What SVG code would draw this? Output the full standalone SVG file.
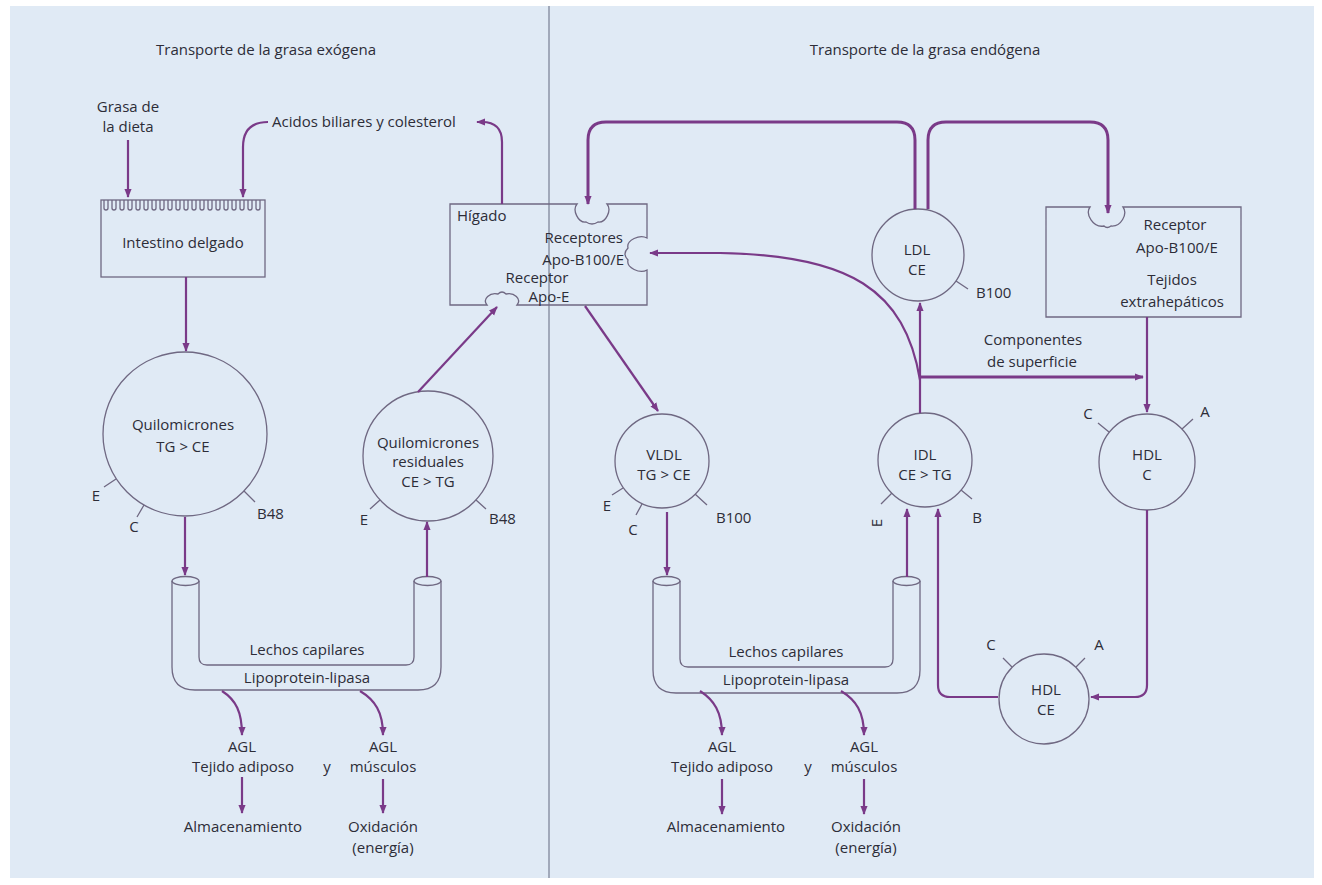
<svg xmlns="http://www.w3.org/2000/svg" width="1322" height="885" viewBox="0 0 1322 885">
<defs>
<style>
.t{font-family:"Open Sans","Liberation Sans",sans-serif;font-size:15px;fill:#2d2d38;text-anchor:middle}
.s{text-anchor:start}
.e{text-anchor:end}
.ti{font-size:15px}
.o{fill:none;stroke:#6f6882;stroke-width:1.3}
.a{fill:none;stroke:#7a3a88;stroke-width:2.2;marker-end:url(#ah)}
.k{stroke-width:3}
.st{fill:none;stroke:#6f6882;stroke-width:1.3}
</style>
<marker id="ah" viewBox="0 0 10 10" refX="9" refY="5" markerWidth="9" markerHeight="9" markerUnits="userSpaceOnUse" orient="auto"><path d="M0,1 L10,5 L0,9 z" fill="#7a3a88"/></marker>
</defs>
<rect x="0" y="0" width="1322" height="885" fill="#ffffff"/>
<rect x="10" y="6" width="1304" height="872" fill="#e0eaf5"/>
<line x1="549" y1="6" x2="549" y2="878" stroke="#8d93a6" stroke-width="1.5"/>

<g id="titles">
<text class="t ti" x="266" y="55">Transporte de la grasa exógena</text>
<text class="t ti" x="925" y="55">Transporte de la grasa endógena</text>
</g>

<g id="grasa">
<text class="t" x="128" y="112">Grasa de</text>
<text class="t" x="128" y="132">la dieta</text>
</g>

<g id="acidos">
<text class="t s" x="272" y="127">Acidos biliares y colesterol</text>
</g>

<g id="intestino">
<rect class="o" x="101" y="200" width="164" height="77"/>
<path class="o" d="M104 200V208q0 2 2 2q2 0 2-2V200 M112 200V208q0 2 2 2q2 0 2-2V200 M120 200V208q0 2 2 2q2 0 2-2V200 M128 200V208q0 2 2 2q2 0 2-2V200 M136 200V208q0 2 2 2q2 0 2-2V200 M144 200V208q0 2 2 2q2 0 2-2V200 M152 200V208q0 2 2 2q2 0 2-2V200 M160 200V208q0 2 2 2q2 0 2-2V200 M168 200V208q0 2 2 2q2 0 2-2V200 M176 200V208q0 2 2 2q2 0 2-2V200 M184 200V208q0 2 2 2q2 0 2-2V200 M192 200V208q0 2 2 2q2 0 2-2V200 M200 200V208q0 2 2 2q2 0 2-2V200 M208 200V208q0 2 2 2q2 0 2-2V200 M216 200V208q0 2 2 2q2 0 2-2V200 M224 200V208q0 2 2 2q2 0 2-2V200 M232 200V208q0 2 2 2q2 0 2-2V200 M240 200V208q0 2 2 2q2 0 2-2V200 M248 200V208q0 2 2 2q2 0 2-2V200 M256 200V208q0 2 2 2q2 0 2-2V200"/>
<text class="t" x="183" y="248">Intestino delgado</text>
</g>

<g id="higado">
<path class="o" d="M450 204H577C572 210 578 223 586 222Q592 226 598 222C606 223 612 210 607 204H647V238C640 234 626 240 628 248Q622 254 628 260C626 268 640 274 647 270V305H517C522 299 514 292 506 294Q502 290 498 294C490 292 482 299 487 305H450Z"/>
<text class="t s" x="457" y="221">Hígado</text>
<text class="t e" x="623" y="243">Receptores</text>
<text class="t e" x="624" y="265">Apo-B100/E</text>
<text class="t" x="537" y="283">Receptor</text>
<text class="t" x="549" y="302">Apo-E</text>
</g>

<g id="tejidos">
<path class="o" d="M1046 207H1090C1085 214 1093 228 1104 226Q1107 229 1111 226C1121 227 1128 214 1123 207H1241V317H1046Z"/>
<text class="t" x="1175" y="230">Receptor</text>
<text class="t" x="1177" y="253">Apo-B100/E</text>
<text class="t" x="1172" y="285">Tejidos</text>
<text class="t" x="1172" y="307">extrahepáticos</text>
</g>

<g id="quilomicrones">
<circle class="o" cx="185" cy="434" r="82"/>
<text class="t" x="183" y="430">Quilomicrones</text>
<text class="t" x="183" y="452">TG &gt; CE</text>
<path class="st" d="M116 479L104 487 M144 505L137 517 M244 491L255 502"/>
<text class="t" x="96" y="501">E</text>
<text class="t" x="134" y="532">C</text>
<text class="t s" x="257" y="519">B48</text>
</g>

<g id="residuales">
<circle class="o" cx="428" cy="456" r="65"/>
<text class="t" x="428" y="448">Quilomicrones</text>
<text class="t" x="428" y="467">residuales</text>
<text class="t" x="428" y="487">CE &gt; TG</text>
<path class="st" d="M380 500L370 509 M476 500L486 509"/>
<text class="t" x="364" y="525">E</text>
<text class="t s" x="489" y="524">B48</text>
</g>

<g id="vldl">
<circle class="o" cx="662" cy="461" r="47"/>
<text class="t" x="664" y="460">VLDL</text>
<text class="t" x="664" y="480">TG &gt; CE</text>
<path class="st" d="M623 488L612 495 M642 504L636 515 M695 494L707 505"/>
<text class="t" x="607" y="511">E</text>
<text class="t" x="633" y="535">C</text>
<text class="t s" x="716" y="523">B100</text>
</g>

<g id="idl">
<circle class="o" cx="925" cy="460" r="47"/>
<text class="t" x="925" y="460">IDL</text>
<text class="t" x="925" y="480">CE &gt; TG</text>
<path class="st" d="M892 493L881 504 M961 490L972 499"/>
<text class="t" x="0" y="0" transform="translate(882 523) rotate(-90)">E</text>
<text class="t" x="977" y="523">B</text>
</g>

<g id="ldl">
<circle class="o" cx="918" cy="255" r="46"/>
<text class="t" x="917" y="255">LDL</text>
<text class="t" x="917" y="275">CE</text>
<path class="st" d="M956 281L968 289"/>
<text class="t s" x="976" y="298">B100</text>
</g>

<g id="hdl-c">
<circle class="o" cx="1147" cy="462" r="48"/>
<text class="t" x="1147" y="460">HDL</text>
<text class="t" x="1147" y="480">C</text>
<path class="st" d="M1109 432L1098 423 M1182 429L1193 419"/>
<text class="t" x="1088" y="419">C</text>
<text class="t" x="1205" y="417">A</text>
</g>

<g id="hdl-ce">
<circle class="o" cx="1044" cy="699" r="45"/>
<text class="t" x="1046" y="695">HDL</text>
<text class="t" x="1046" y="715">CE</text>
<path class="st" d="M1012 667L1003 658 M1076 667L1085 658"/>
<text class="t" x="991" y="650">C</text>
<text class="t" x="1099" y="650">A</text>
</g>

<g id="capilares-exogena">
<path class="o" d="M172 581V667Q172 690 195 690H418Q441 690 441 667V581"/>
<path class="o" d="M199 581V657Q199 665 207 665H406Q414 665 414 657V581"/>
<ellipse class="o" cx="185.5" cy="581" rx="13.5" ry="4.5"/>
<ellipse class="o" cx="427.5" cy="581" rx="13.5" ry="4.5"/>
<text class="t" x="307" y="655">Lechos capilares</text>
<text class="t" x="307" y="683">Lipoprotein-lipasa</text>
</g>

<g id="capilares-endogena">
<path class="o" d="M653 581V670Q653 693 676 693H897Q920 693 920 670V581"/>
<path class="o" d="M680 581V659Q680 667 688 667H885Q893 667 893 659V581"/>
<ellipse class="o" cx="666.5" cy="581" rx="13.5" ry="4.5"/>
<ellipse class="o" cx="906.5" cy="581" rx="13.5" ry="4.5"/>
<text class="t" x="786" y="657">Lechos capilares</text>
<text class="t" x="786" y="685">Lipoprotein-lipasa</text>
</g>

<g id="productos-exogena">
<text class="t" x="242" y="752">AGL</text>
<text class="t" x="243" y="772">Tejido adiposo</text>
<text class="t" x="327" y="772">y</text>
<text class="t" x="383" y="752">AGL</text>
<text class="t" x="383" y="772">músculos</text>
<text class="t" x="243" y="832">Almacenamiento</text>
<text class="t" x="383" y="832">Oxidación</text>
<text class="t" x="383" y="853">(energía)</text>
</g>

<g id="productos-endogena">
<text class="t" x="722" y="752">AGL</text>
<text class="t" x="722" y="772">Tejido adiposo</text>
<text class="t" x="808" y="772">y</text>
<text class="t" x="864" y="752">AGL</text>
<text class="t" x="864" y="772">músculos</text>
<text class="t" x="726" y="832">Almacenamiento</text>
<text class="t" x="866" y="832">Oxidación</text>
<text class="t" x="866" y="853">(energía)</text>
</g>

<g id="componentes">
<text class="t" x="1033" y="345">Componentes</text>
<text class="t" x="1032" y="367">de superficie</text>
</g>

<g id="connectors">
<path class="a" d="M128 140V197"/>
<path class="a" d="M268 122Q243 122 243 147V197"/>
<path class="a" d="M502 204V142Q502 122 482 122H477"/>
<path class="a" d="M186 277V351"/>
<path class="a" d="M185 517V575"/>
<path class="a" d="M427 577V522"/>
<path class="a" d="M418 392L497 307"/>
<path class="a" d="M222 691C236 700 242 712 242 735"/>
<path class="a" d="M360 691C375 700 383 712 383 735"/>
<path class="a" d="M242 777V813"/>
<path class="a" d="M383 779V813"/>
<path class="a" d="M585 306L658 411"/>
<path class="a" d="M667 512V575"/>
<path class="a" d="M907 577V509"/>
<path class="a" d="M998 697H950Q938 697 938 685V509"/>
<path class="a" d="M1147 510V685Q1147 697 1135 697H1091"/>
<path class="a" d="M1147 317V412"/>
<path class="a k" d="M920 377H1143"/>
<path class="a" d="M920 413V303"/>
<path class="a" d="M920 380C905 290 850 255 720 253L650 253"/>
<path class="a k" d="M915 209V140Q915 122 897 122H606Q588 122 588 140V204"/>
<path class="a k" d="M928 209V140Q928 122 946 122H1090Q1108 122 1108 140V213"/>
<path class="a" d="M700 691C714 700 722 712 722 735"/>
<path class="a" d="M841 691C856 700 864 712 864 735"/>
<path class="a" d="M722 779V814"/>
<path class="a" d="M864 779V814"/>
</g>
</svg>
